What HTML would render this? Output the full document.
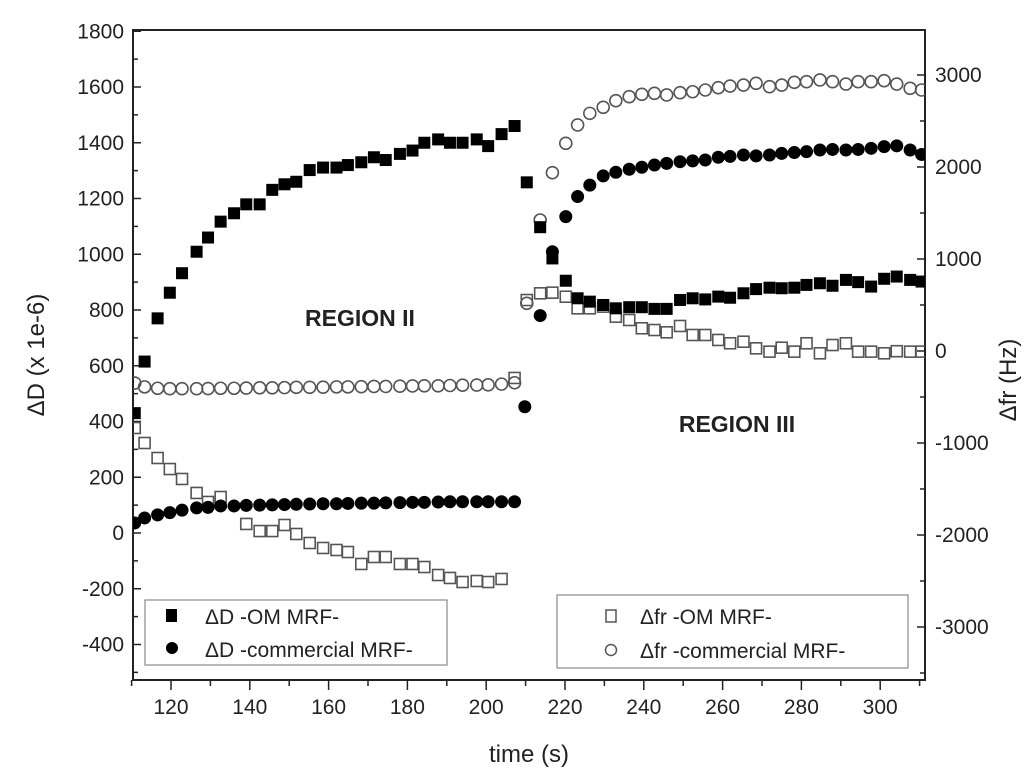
<!DOCTYPE html>
<html><head><meta charset="utf-8"><style>
body{margin:0;background:#fff;}
svg{display:block;font-family:"Liberation Sans",Arial,sans-serif;}
</style></head><body>
<svg id="chart" width="1024" height="777" viewBox="0 0 1024 777"></svg>
<script>
// ---- data ----
const tII = [113.3,116.6,119.7,122.8,126.5,129.4,132.6,136.0,139.1,142.5,145.7,148.8,151.8,155.2,158.6,162.0,164.9,168.3,171.5,174.5,178.1,181.3,184.3,187.8,190.8,194.0,197.6,200.5,203.9,207.2];
const tIII = [210.3,213.7,216.8,220.2,223.2,226.3,229.7,232.9,236.3,239.5,242.7,245.8,249.2,252.4,255.6,258.9,261.9,265.3,268.5,271.9,275.0,278.2,281.3,284.7,287.9,291.3,294.4,297.7,301.0,304.2,307.6,310.5];
const dOM_II = [615,770,862,932,1009,1060,1117,1147,1179,1179,1231,1251,1260,1302,1311,1311,1320,1330,1348,1338,1360,1372,1400,1412,1400,1400,1412,1388,1431,1460];
const dOM_III = [1258,1097,985,905,842,830,818,806,810,810,804,804,836,842,838,848,844,860,875,880,878,880,890,896,887,908,900,884,912,920,908,902];
const dCom_II = [54,65,73,82,90,92,97,97,99,100,101,102,103,104,105,105,106,107,107,108,109,110,110,111,112,112,112,112,112,112];
const dCom_III = [780,1009,1135,1207,1248,1281,1294,1305,1312,1320,1326,1332,1335,1338,1348,1351,1356,1353,1356,1362,1365,1368,1374,1376,1374,1376,1380,1386,1389,1374,1358];
const frCom_II = [-390,-405,-410,-410,-410,-408,-405,-405,-403,-400,-400,-398,-395,-395,-393,-390,-390,-388,-385,-385,-383,-380,-378,-378,-375,-372,-370,-368,-360,-345];
const frCom_III = [518,1424,1938,2257,2457,2583,2649,2721,2764,2790,2801,2783,2808,2818,2837,2862,2880,2891,2910,2873,2891,2920,2927,2946,2927,2902,2927,2927,2938,2902,2855,2837];
const tFrOM_II = [110.8,113.3,116.6,119.7,122.8,126.5,129.4,132.6,139.1,142.5,145.7,148.8,151.8,155.2,158.6,162.0,164.9,168.3,171.5,174.5,178.1,181.3,184.3,187.8,190.8,194.0,197.6,200.5,203.9,207.2];
const frOM_II = [-837,-1000,-1163,-1283,-1391,-1543,-1641,-1587,-1880,-1957,-1957,-1891,-1989,-2087,-2141,-2163,-2185,-2315,-2239,-2239,-2315,-2315,-2348,-2435,-2467,-2511,-2500,-2511,-2478,-293];
const frOM_III = [554,627,634,590,464,464,482,373,337,247,228,203,272,174,174,120,84,101,29,-7,36,-7,84,-25,65,84,-7,-7,-25,-2,-7,-7];
const xTicks = [120,140,160,180,200,220,240,260,280,300];
const yLTicks = [-400,-200,0,200,400,600,800,1000,1200,1400,1600,1800];
const yRTicks = [-3000,-2000,-1000,0,1000,2000,3000];

// ---- axes ----
const L=133,R=925,T=30,B=680;
const X=t=>171+(t-120)*3.94;
const YL=v=>533-v*0.27875;
const YR=v=>351-v*0.092;
const svg=document.getElementById('chart');
const NS='http://www.w3.org/2000/svg';
function mk(tag,at,parent){const e=document.createElementNS(NS,tag);for(const k in at)e.setAttribute(k,at[k]);(parent||svg).appendChild(e);return e;}

const defs=mk('defs',{});
const cp=mk('clipPath',{id:'plotclip'},defs);
mk('rect',{x:L,y:T,width:R-L,height:B-T},cp);

const frame=mk('rect',{x:L,y:T,width:R-L,height:B-T,fill:'none',stroke:'#222','stroke-width':2});



// x ticks
for(let t=110;t<=310;t+=10){
  const major=(t%20===0);
  const tk=mk('line',{x1:X(t),x2:X(t),y1:B,y2:B+(major?10:6),stroke:'#222','stroke-width':1.5});
  
  
}
xTicks.forEach(t=>{
  const tx=mk('text',{x:X(t),y:B+34,'text-anchor':'middle','font-size':21,fill:'#222'});
  tx.textContent=t;
  
  
});
// left y ticks
for(let v=-500;v<=1800;v+=100){
  const y=YL(v); if(y<T||y>B)continue;
  const major=(v%200===0);
  const tk=mk('line',{x1:L,x2:L+(major?8:5),y1:y,y2:y,stroke:'#222','stroke-width':1.5});
  
  
}
yLTicks.forEach(v=>{
  const tx=mk('text',{x:L-9,y:YL(v)+7,'text-anchor':'end','font-size':21,fill:'#222'});
  tx.textContent=v;
  
  
});
// right y ticks
for(let v=-3500;v<=3500;v+=500){
  const y=YR(v); if(y<T||y>B)continue;
  const major=(v%1000===0);
  const tk=mk('line',{x1:R,x2:R-(major?8:5),y1:y,y2:y,stroke:'#222','stroke-width':1.5});
  
  
}
yRTicks.forEach(v=>{
  const tx=mk('text',{x:R+10,y:YR(v)+7,'text-anchor':'start','font-size':21,fill:'#222'});
  tx.textContent=v;
  
  
});

// axis titles
let at=mk('text',{x:(L+R)/2,y:762,'text-anchor':'middle','font-size':24,fill:'#222'});
at.textContent='time (s)';


at=mk('text',{x:0,y:0,'text-anchor':'middle','font-size':24,fill:'#222',transform:'translate(44,355) rotate(-90)'});
at.textContent='\u0394D (x 1e-6)';


at=mk('text',{x:0,y:0,'text-anchor':'middle','font-size':24,fill:'#222',transform:'translate(1016,380) rotate(-90)'});
at.textContent='\u0394fr (Hz)';



// region labels
at=mk('text',{x:360,y:326,'text-anchor':'middle','font-size':23,'font-weight':'bold',fill:'#222'});
at.textContent='REGION II';


at=mk('text',{x:737,y:432,'text-anchor':'middle','font-size':23,'font-weight':'bold',fill:'#222'});
at.textContent='REGION III';



const g=mk('g',{'clip-path':'url(#plotclip)'});


// markers
function sq(x,y,filled,name){
  const e=mk('rect',{x:x-5.5,y:y-5.5,width:11,height:11,fill:filled?'#000':'none',stroke:filled?'#000':'#555','stroke-width':filled?1:1.6},g);
  
  
}
function ci(x,y,filled,name){
  const e=mk('circle',{cx:x,cy:y,r:6,fill:filled?'#000':'none',stroke:filled?'#000':'#555','stroke-width':filled?1:1.6},g);
  
  
}
frOM_II.forEach((v,i)=>sq(X(tFrOM_II[i]),YR(v),false,'point-dfr-om'));
frOM_III.forEach((v,i)=>sq(X(tIII[i]),YR(v),false,'point-dfr-om'));
ci(X(110.8),YR(-348),false,'point-dfr-commercial');
frCom_II.forEach((v,i)=>ci(X(tII[i]),YR(v),false,'point-dfr-commercial'));
frCom_III.forEach((v,i)=>ci(X(tIII[i]),YR(v),false,'point-dfr-commercial'));
ci(X(110.8),YL(36),true,'point-dd-commercial');
dCom_II.forEach((v,i)=>ci(X(tII[i]),YL(v),true,'point-dd-commercial'));
ci(X(209.8),YL(453),true,'point-dd-commercial');
dCom_III.forEach((v,i)=>ci(X(tIII[i+1]),YL(v),true,'point-dd-commercial'));
sq(X(110.8),YL(430),true,'point-dd-om');
dOM_II.forEach((v,i)=>sq(X(tII[i]),YL(v),true,'point-dd-om'));
dOM_III.forEach((v,i)=>sq(X(tIII[i]),YL(v),true,'point-dd-om'));
</script>
<svg width="1024" height="777" style="position:absolute;left:0;top:0;font-family:'Liberation Sans',Arial,sans-serif">
  <g>
    <rect x="145" y="600" width="302" height="65" fill="#fff" stroke="#888" stroke-width="1.2"/>
    <rect x="166" y="609" width="11" height="13" fill="#000"/>
    <text x="205" y="624" font-size="21" fill="#222">ΔD -OM MRF-</text>
    <circle cx="172" cy="648" r="6" fill="#000"/>
    <text x="205" y="657" font-size="21" fill="#222">ΔD -commercial MRF-</text>
  </g>
  <g>
    <rect x="557" y="595" width="351" height="73" fill="#fff" stroke="#888" stroke-width="1.2"/>
    <rect x="606" y="610" width="10" height="12" fill="none" stroke="#555" stroke-width="1.5"/>
    <text x="640" y="624" font-size="21" fill="#222">Δfr -OM MRF-</text>
    <circle cx="611" cy="650" r="5.5" fill="none" stroke="#555" stroke-width="1.5"/>
    <text x="640" y="658" font-size="21" fill="#222">Δfr -commercial MRF-</text>
  </g>
</svg>
</body></html>
